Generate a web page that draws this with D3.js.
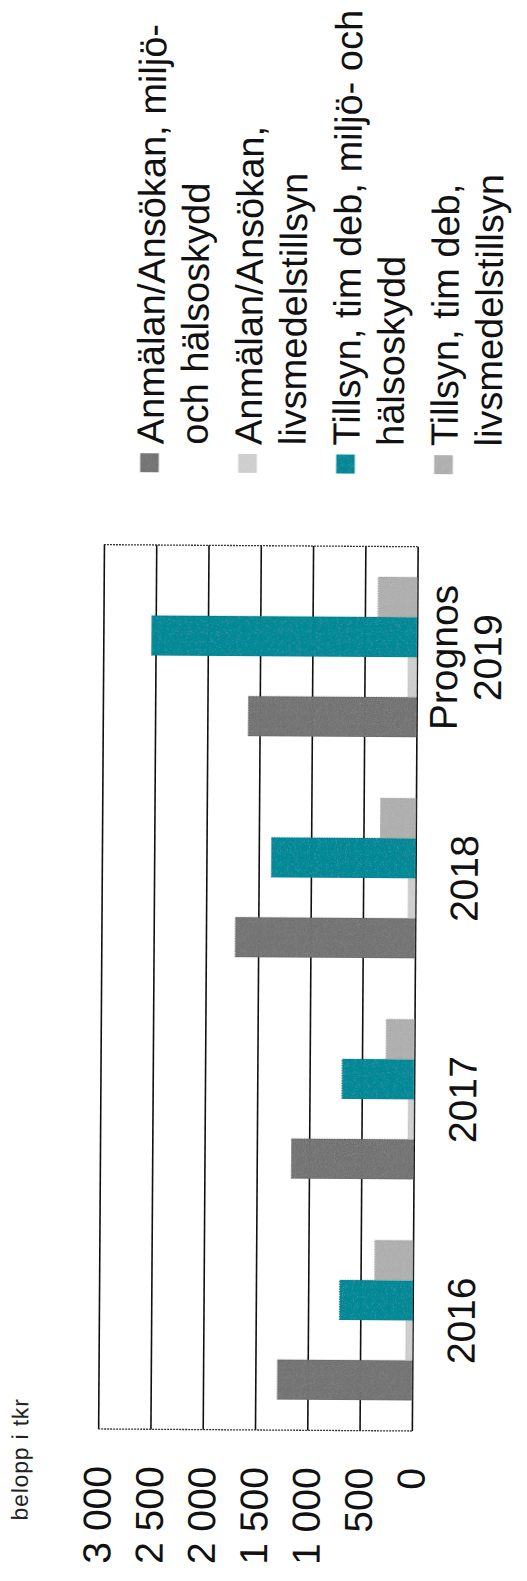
<!DOCTYPE html>
<html>
<head>
<meta charset="utf-8">
<script src="https://cdn.jsdelivr.net/npm/d3@7"></script>
<style>
  html, body { margin: 0; padding: 0; background: #fff; }
  svg { display: block; font-family: "Liberation Sans", Arial, Helvetica, sans-serif; }
</style>
</head>
<body>
<script>
// Kategorier (år) och serier, belopp i tkr
const categories = ["2016", "2017", "2018", "Prognos 2019"];
const seriesKeys = ["anmalanMiljo", "anmalanLivsmedel", "tillsynMiljo", "tillsynLivsmedel"];
const anmalanMiljo     = [1290, 1170, 1720, 1610];
const anmalanLivsmedel = [65, 55, 70, 85];
const tillsynMiljo     = [700, 690, 1380, 2540];
const tillsynLivsmedel = [365, 270, 340, 375];
const valueTicks = [0, 500, 1000, 1500, 2000, 2500, 3000];
const legendLines = [
  ["Anmälan/Ansökan, miljö-", "och hälsoskydd"],
  ["Anmälan/Ansökan,", "livsmedelstillsyn"],
  ["Tillsyn, tim deb, miljö- och", "hälsoskydd"],
  ["Tillsyn, tim deb,", "livsmedelstillsyn"]
];
const unitLabel = "belopp i tkr";
const seriesColors = ["#878787", "#d7d7d7", "#3e98a4", "#bababa"];

const seriesValues = [anmalanMiljo, anmalanLivsmedel, tillsynMiljo, tillsynLivsmedel];
const rows = categories.map((c, i) => ({ category: c, values: seriesValues.map(s => s[i]) }));

const W = 527, H = 1581;
const svg = d3.select("body").append("svg").attr("width", W).attr("height", H);

// kornig utfyllnad för staplarna
const defs = svg.append("defs");
const f = defs.append("filter").attr("id", "grain").attr("x", 0).attr("y", 0).attr("width", 1).attr("height", 1);
f.append("feTurbulence").attr("type", "fractalNoise").attr("baseFrequency", 0.9).attr("numOctaves", 2).attr("seed", 4).attr("result", "noise");
f.append("feColorMatrix").attr("in", "noise").attr("type", "saturate").attr("values", 0).attr("result", "gray");
f.append("feComposite").attr("in", "SourceGraphic").attr("in2", "gray").attr("operator", "arithmetic")
  .attr("k1", 0).attr("k2", 1).attr("k3", 0.28).attr("k4", -0.14).attr("result", "mix");
f.append("feComposite").attr("in", "mix").attr("in2", "SourceGraphic").attr("operator", "in");

// Diagrammet ritas liggande och vrids ett kvarts varv
const page = svg.append("g").attr("transform", "rotate(0.376,413,1300)");
const g = page.append("g").attr("transform", `translate(0,${H}) rotate(-90)`);

// plotområde (u = vågrätt, v = lodrätt i det liggande diagrammet)
const plotLeft = 150, plotRight = 1034.3;
const y = d3.scaleLinear().domain([0, 3000]).range([412.7, 99]);
const x0 = d3.scaleBand().domain(categories).range([plotLeft, plotRight]).paddingInner(0.276).paddingOuter(0.138);
const x1 = d3.scaleBand().domain(d3.range(seriesKeys.length)).range([0, x0.bandwidth()]);

const fmt = d3.formatLocale({ decimal: ",", thousands: " ", grouping: [3], currency: ["", " kr"] }).format(",d");

// värdeaxel med stödlinjer
const axis = g.append("g")
  .attr("transform", `translate(${plotLeft},0)`)
  .call(d3.axisLeft(y).tickValues(valueTicks).tickFormat(fmt)
    .tickSize(-(plotRight - plotLeft)).tickPadding(37));
axis.select(".domain").remove();
axis.selectAll(".tick line").attr("stroke", "#111").attr("stroke-width", 1.6);
axis.selectAll(".tick text").attr("fill", "#111").attr("font-size", 39)
  .attr("font-family", "'Liberation Sans', Arial, sans-serif");

// ramens ändar
g.selectAll(".frame").data([plotLeft, plotRight]).enter().append("line")
  .attr("x1", d => d).attr("x2", d => d).attr("y1", y(3000)).attr("y2", y(0))
  .attr("stroke", "#333").attr("stroke-width", 1.3).attr("stroke-dasharray", "2,1");

// staplar
const groups = g.selectAll(".cat").data(rows).enter().append("g")
  .attr("transform", d => `translate(${x0(d.category)},0)`);
groups.selectAll("rect").data(d => d.values.map((v, i) => ({ v, i }))).enter().append("rect")
  .attr("x", d => x1(d.i)).attr("width", x1.bandwidth())
  .attr("y", d => y(d.v)).attr("height", d => y(0) - y(d.v))
  .attr("fill", d => seriesColors[d.i])
  .attr("stroke", d => d3.color(seriesColors[d.i]).darker(0.5)).attr("stroke-width", 0.8)
  .attr("stroke-dasharray", "1.5,1")
  .attr("filter", "url(#grain)");

// kategorietiketter
const catLabels = g.selectAll(".catlabel").data(categories).enter().append("text")
  .attr("text-anchor", "middle").attr("font-size", 39).attr("fill", "#111");
catLabels.each(function (c) {
  const lines = c.split(" ");
  const base = lines.length === 1 ? [475] : [453, 497];
  const t = d3.select(this);
  lines.forEach((ln, k) => {
    t.append("tspan").attr("x", x0(c) + x0.bandwidth() / 2).attr("y", base[k]).text(ln);
  });
});

// förklaring
const legendStart = 1135, legendBase0 = 158, legendPitch = 98, lineGap = 44;
const leg = g.selectAll(".leg").data(legendLines).enter().append("g");
leg.append("rect")
  .attr("x", 1107).attr("width", 19)
  .attr("y", (d, i) => legendBase0 + i * legendPitch - 23.5).attr("height", 19)
  .attr("fill", (d, i) => seriesColors[i])
  .attr("filter", "url(#grain)");
leg.append("text").attr("font-size", 38).attr("fill", "#111")
  .each(function (lines, i) {
    const t = d3.select(this);
    lines.forEach((ln, k) => {
      t.append("tspan").attr("x", legendStart).attr("y", legendBase0 + i * legendPitch + k * lineGap).text(ln);
    });
  });

// enhet
g.append("text").attr("x", 58).attr("y", 29)
  .attr("font-size", 23).attr("letter-spacing", 0.8).attr("fill", "#222")
  .text(unitLabel);
</script>
</body>
</html>
